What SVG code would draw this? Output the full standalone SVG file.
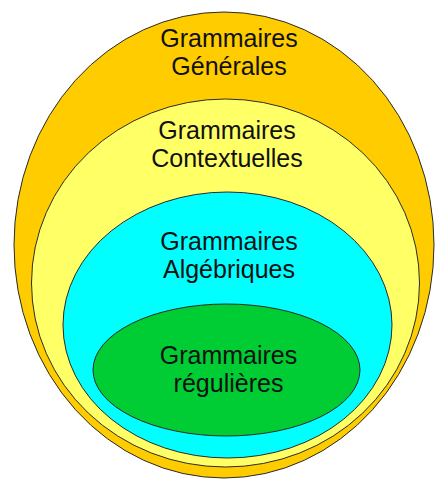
<svg xmlns="http://www.w3.org/2000/svg" width="435" height="479" viewBox="0 0 435 479">
<style>
.e{stroke:#2a2a2a;stroke-width:1}
.t{font-family:"Liberation Sans",Arial,sans-serif;font-size:25px;fill:#111;text-anchor:middle}
</style>
<rect width="435" height="479" fill="#fff"/>
<g id="generales">
<ellipse class="e" cx="224" cy="245" rx="210" ry="233" fill="#ffcc00"/>
<text class="t" x="229" y="47">Grammaires</text>
<text class="t" x="229" y="75">Générales</text>
</g>
<g id="contextuelles">
<ellipse class="e" cx="225.5" cy="283" rx="194" ry="184" fill="#ffff66"/>
<text class="t" x="227" y="139">Grammaires</text>
<text class="t" x="227" y="167">Contextuelles</text>
</g>
<g id="algebriques">
<ellipse class="e" cx="227.5" cy="325" rx="164.5" ry="133" fill="#00ffff"/>
<text class="t" x="229" y="250">Grammaires</text>
<text class="t" x="229" y="278">Algébriques</text>
</g>
<g id="regulieres">
<ellipse class="e" cx="226.5" cy="370" rx="133.5" ry="66" fill="#00cc33"/>
<text class="t" x="228.5" y="364">Grammaires</text>
<text class="t" x="228.5" y="392">régulières</text>
</g>
<g id="connectors"/>
</svg>
